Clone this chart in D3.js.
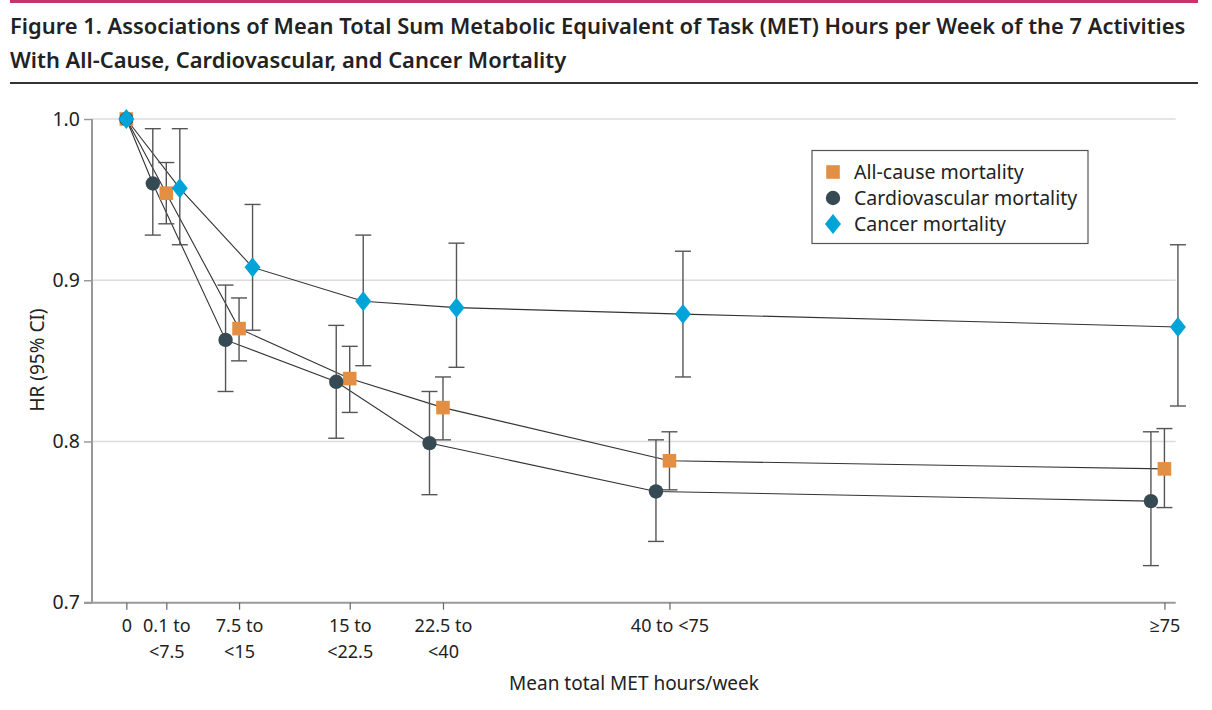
<!DOCTYPE html>
<html>
<head>
<meta charset="utf-8">
<script src="https://cdn.jsdelivr.net/npm/d3@7"></script>
<style>
  body { margin: 0; background: #fff; }
  svg text { font-family: "Noto Sans", "Open Sans", sans-serif; fill: #222; }
</style>
</head>
<body>
<svg id="chart" width="1212" height="710"></svg>
<script>
// x categories (mean total MET h/wk) and an estimate of each group's mean, used for spacing
var categories = [["0"], ["0.1 to", "<7.5"], ["7.5 to", "<15"], ["15 to", "<22.5"], ["22.5 to", "<40"], ["40 to <75"], ["\u226575"]];
var metMid = [0, 3.9, 11.0, 21.8, 30.9, 53.0, 101.3];

// hazard ratios and 95% CI
var allCause   = [1.0, 0.954, 0.870, 0.839, 0.821, 0.788, 0.783];
var allCauseLo = [null, 0.935, 0.850, 0.818, 0.801, 0.770, 0.759];
var allCauseHi = [null, 0.973, 0.889, 0.859, 0.840, 0.806, 0.808];

var cardio   = [1.0, 0.960, 0.863, 0.837, 0.799, 0.769, 0.763];
var cardioLo = [null, 0.928, 0.831, 0.802, 0.767, 0.738, 0.723];
var cardioHi = [null, 0.994, 0.897, 0.872, 0.831, 0.801, 0.806];

var cancer   = [1.0, 0.957, 0.908, 0.887, 0.883, 0.879, 0.871];
var cancerLo = [null, 0.922, 0.869, 0.847, 0.846, 0.840, 0.822];
var cancerHi = [null, 0.994, 0.947, 0.928, 0.923, 0.918, 0.922];

var yTicks = [0.7, 0.8, 0.9, 1.0];

var series = [
  {name: "All-cause mortality", hr: allCause, lo: allCauseLo, hi: allCauseHi, shape: "square", color: "#E38F43", dx: 0},
  {name: "Cardiovascular mortality", hr: cardio, lo: cardioLo, hi: cardioHi, shape: "circle", color: "#364A53", dx: -13.5},
  {name: "Cancer mortality", hr: cancer, lo: cancerLo, hi: cancerHi, shape: "diamond", color: "#00A4D8", dx: 13.5}
];

var svg = d3.select("#chart");

// header rules + title
svg.append("line").attr("x1", 10).attr("x2", 1198).attr("y1", 1.5).attr("y2", 1.5)
  .attr("stroke", "#C9346C").attr("stroke-width", 3);
svg.append("line").attr("x1", 10).attr("x2", 1198).attr("y1", 83).attr("y2", 83)
  .attr("stroke", "#333").attr("stroke-width", 2);

var title1 = svg.append("text").attr("x", 10).attr("y", 34)
  .attr("font-size", 24).attr("font-weight", 600)
  .text("Figure 1. Associations of Mean Total Sum Metabolic Equivalent of Task (MET) Hours per Week of the 7 Activities");
// shrink the font until the first line fits the reference width
var w1 = title1.node().getComputedTextLength();
var titleSize = Math.min(24, 24 * 1176 / w1);
title1.attr("font-size", titleSize);
svg.append("text").attr("x", 10).attr("y", 68)
  .attr("font-size", titleSize).attr("font-weight", 600)
  .text("With All-Cause, Cardiovascular, and Cancer Mortality");

var x = d3.scaleLinear().domain([-3.35, 102.4]).range([92, 1175.7]);
var y = d3.scaleLinear().domain([0.7, 1.0]).range([602.7, 119]);

function px(s, i) { return x(metMid[i]) + (i === 0 ? 0 : s.dx); }

// gridlines
svg.append("g").selectAll("line").data(yTicks.filter(function(t) { return t > 0.7; }))
  .enter().append("line")
  .attr("x1", 92).attr("x2", 1175.7)
  .attr("y1", function(d) { return y(d); }).attr("y2", function(d) { return y(d); })
  .attr("stroke", "#dcdcdc").attr("stroke-width", 1.5);

// y axis
var yAxis = d3.axisLeft(y).tickValues(yTicks).tickFormat(d3.format(".1f")).tickSize(8).tickPadding(4);
var gy = svg.append("g").attr("transform", "translate(92,0)").call(yAxis);
gy.select(".domain").attr("stroke", "#999").attr("stroke-width", 2).attr("d", "M0," + y(1.0) + "V" + y(0.7));
gy.selectAll(".tick line").attr("stroke", "#999").attr("stroke-width", 1.5);
gy.selectAll(".tick text").attr("font-size", 19.5).attr("fill", "#222")
  .style("font-family", "'Noto Sans', sans-serif");

// x axis
var xAxis = d3.axisBottom(x).tickValues(metMid).tickSize(7).tickFormat("");
var gx = svg.append("g").attr("transform", "translate(0," + y(0.7) + ")").call(xAxis);
gx.select(".domain").attr("stroke", "#999").attr("stroke-width", 2).attr("d", "M84,0H1175.7");
gx.selectAll(".tick line").attr("stroke", "#666").attr("stroke-width", 1.2);
gx.selectAll(".tick").each(function(d, i) {
  var t = d3.select(this).append("text").attr("text-anchor", "middle")
    .attr("font-size", 18).attr("fill", "#222");
  categories[i].forEach(function(line, j) {
    t.append("tspan").attr("x", 0).attr("y", 29 + j * 26).text(line);
  });
});

svg.append("text").attr("x", 634).attr("y", 690).attr("text-anchor", "middle")
  .attr("font-size", 19).text("Mean total MET hours/week");
svg.append("text").attr("transform", "translate(44,360) rotate(-90)").attr("text-anchor", "middle")
  .attr("font-size", 19).text("HR (95% CI)");

// connecting lines
var line = d3.line();
series.forEach(function(s) {
  var pts = s.hr.map(function(v, i) { return [px(s, i), y(v)]; });
  svg.append("path").attr("d", line(pts)).attr("fill", "none")
    .attr("stroke", "#333").attr("stroke-width", 1.1);
});

// error bars
series.forEach(function(s) {
  var g = svg.append("g").attr("stroke", "#555").attr("stroke-width", 1.4);
  s.hr.forEach(function(v, i) {
    if (s.lo[i] == null) return;
    var cx = px(s, i);
    g.append("line").attr("x1", cx).attr("x2", cx).attr("y1", y(s.hi[i])).attr("y2", y(s.lo[i]));
    g.append("line").attr("x1", cx - 8).attr("x2", cx + 8).attr("y1", y(s.hi[i])).attr("y2", y(s.hi[i]));
    g.append("line").attr("x1", cx - 8).attr("x2", cx + 8).attr("y1", y(s.lo[i])).attr("y2", y(s.lo[i]));
  });
});

function marker(g, shape, color, cx, cy) {
  if (shape === "square") {
    g.append("rect").attr("x", cx - 6.8).attr("y", cy - 6.8).attr("width", 13.6).attr("height", 13.6).attr("fill", color);
  } else if (shape === "circle") {
    g.append("circle").attr("cx", cx).attr("cy", cy).attr("r", 7.2).attr("fill", color);
  } else {
    g.append("path").attr("d", "M" + cx + "," + (cy - 10) + "L" + (cx + 8) + "," + cy + "L" + cx + "," + (cy + 10) + "L" + (cx - 8) + "," + cy + "Z")
      .attr("fill", color);
  }
}

// markers
series.forEach(function(s) {
  var g = svg.append("g");
  s.hr.forEach(function(v, i) { marker(g, s.shape, s.color, px(s, i), y(v)); });
});

// legend
var lg = svg.append("g");
lg.append("rect").attr("x", 812).attr("y", 150.5).attr("width", 276).attr("height", 93)
  .attr("fill", "#fff").attr("stroke", "#555").attr("stroke-width", 1.2);
series.forEach(function(s, i) {
  var cy = 172 + i * 26;
  marker(lg, s.shape, s.color, 833, cy);
  lg.append("text").attr("x", 854).attr("y", cy + 6.5).attr("font-size", 19.5).text(s.name);
});
</script>
</body>
</html>
